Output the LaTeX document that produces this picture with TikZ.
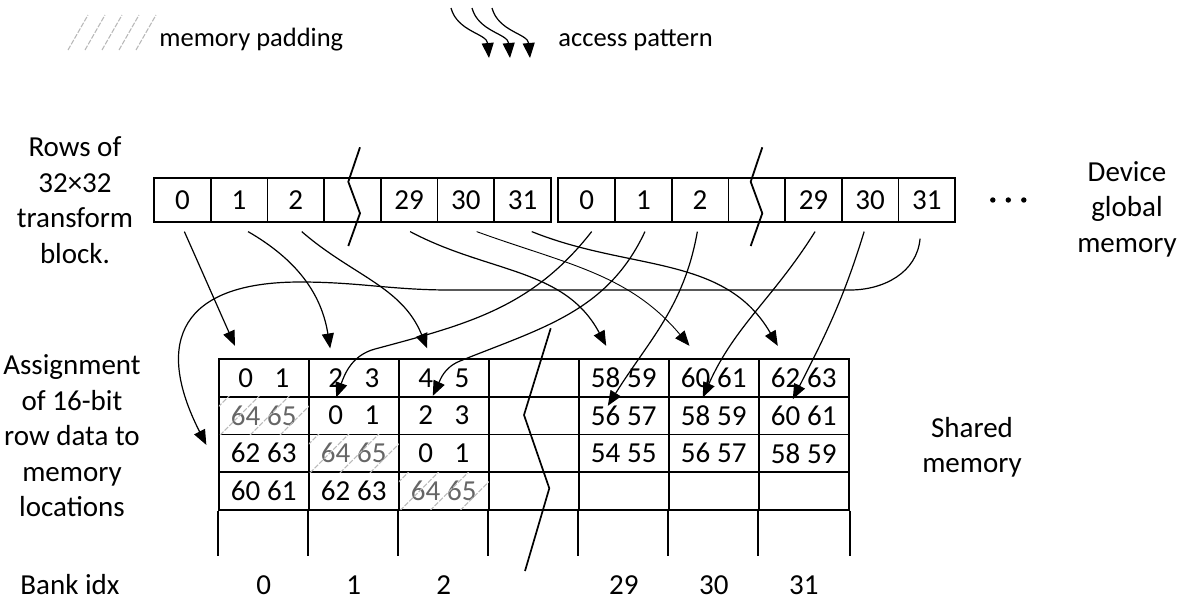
\documentclass[tikz,border=0pt]{standalone}
\usepackage{fontspec}
\setmainfont{Carlito}
\usetikzlibrary{positioning, calc, arrows.meta}
\newcommand{\numpair}[2]{\makebox[1.05em][c]{#1}\hspace{0.2em}\makebox[1.05em][c]{#2}}
\tikzset{
    txt/.style={font=\fontsize{14.5}{17.75}\selectfont},
    lbl/.style={txt, align=center, inner sep=0pt},
    leg/.style={font=\fontsize{13.25}{16}\selectfont, anchor=base west, inner sep=0pt},
    gcell/.style={txt, draw, line width=0.9pt, minimum width=28.35pt, minimum height=22pt, inner sep=0pt},
    scell/.style={txt, draw, line width=0.85pt, minimum width=45pt, minimum height=18.85pt, inner sep=0pt},
    padtext/.style={text=black!60},
    padline/.style={gray!55, line width=0.55pt, dash pattern=on 2.5pt off 0.8pt},
    access/.style={line width=0.6pt, -{Triangle[length=7.5pt,width=6pt]}},
    cut/.style={line width=0.9pt}
}

\begin{document}
\begin{tikzpicture}[x=0.5pt, y=-0.5pt]
    \useasboundingbox (0,0) rectangle (1189,601);

    % legend
    \foreach \k in {0,...,4}
        \draw[padline] (68+17*\k,50) -- (88+17*\k,15);
    \node[leg] (padlegend) at (159,46) {memory padding};
    \foreach \k/\dd in {1/0,2/21,3/41} {
        \coordinate (accs\k) at (451+\dd,8);
        \coordinate (acce\k) at (489+\dd,58);
        \draw[access] (accs\k) to[out=-75,in=95] (acce\k);
    }
    \node[leg] (acclegend) at (558,46) {access pattern};

    % device global memory rows
    \foreach \lab [count=\i from 0] in {0,1,2,{},29,30,31} {
        \node[gcell] (ga\i) at (182.35+56.7*\i,199.7) {\lab};
        \node[gcell] (gb\i) at (586.65+56.7*\i,199.7) {\lab};
    }
    \draw[cut] (360,147.3) -- (348.3,181.7) -- (360,213.3) -- (348.3,246);
    \draw[cut] (762.3,147.3) -- (750.7,181.7) -- (762.3,213.3) -- (750.7,246);
    \foreach \dd in {-15.5,0,15.5}
        \fill (1008.3+\dd,200) circle (2.7);

    % shared memory banks
    \foreach \row [count=\rw] in {
        {0/1/,2/3/,4/5/,{}/{}/,58/59/,60/61/,62/63/},
        {64/65/padtext,0/1/,2/3/,{}/{}/,56/57/,58/59/,60/61/},
        {62/63/,64/65/padtext,0/1/,{}/{}/,54/55/,56/57/,58/59/},
        {60/61/,62/63/,64/65/padtext,{}/{}/,{}/{}/,{}/{}/,{}/{}/}}
        \foreach \na/\nb/\st [count=\cl from 0] in \row
            \node[scell,\st] (s\rw\cl) at (263.8+90*\cl,377.85+37.7*\rw-37.7) {\numpair{\na}{\nb}};
    \foreach \cell in {s20,s31,s42} {
        \begin{scope}
            \clip ([shift={(0.45pt,0.45pt)}]\cell.south west) rectangle ([shift={(-0.45pt,-0.45pt)}]\cell.north east);
            \foreach \k in {-1,...,3}
                \draw[padline] ([xshift=\k*15pt+1pt]\cell.south west) -- ++(50,-50);
        \end{scope}
    }
    \foreach \cl in {0,...,6}
        \draw[line width=0.85pt] (s4\cl.south west) -- ++(0,45.3);
    \draw[line width=0.85pt] (s46.south east) -- ++(0,45.3);
    \draw[cut, line width=0.85pt] (550.7,328.3) -- (524,415) -- (549.3,488.3) -- (525,571);

    % labels
    \node[lbl] (rowslbl) at (75,200) {Rows of\\32×32\\transform\\block.};
    \node[lbl] (devlbl) at (1127,209) {Device\\global\\memory};
    \node[lbl] (asglbl) at (72,436) {Assignment\\of 16-bit\\row data to\\memory\\locations};
    \node[lbl] (shlbl) at (972,447.5) {Shared\\memory};
    \node[lbl] (banklbl) at (70,585) {Bank idx};
    \foreach \lab [count=\cl from 0] in {0,1,2,{},29,30,31}
        \node[lbl] (bank\cl) at (263.8+90*\cl,585) {\lab};

    % access pattern, first row
    \draw[access] ([xshift=1pt,yshift=-4.5pt]ga0.south) to[out=-66,in=114] ([xshift=-14.4pt,yshift=6.15pt]s10.north);
    \draw[access] ([xshift=4.5pt,yshift=-4.5pt]ga1.south) to[out=-30,in=99] ([xshift=-11.8pt,yshift=4.85pt]s11.north);
    \draw[access] ([xshift=3pt,yshift=-4.5pt]ga2.south) to[out=-41,in=112] ([xshift=-8.3pt,yshift=4.85pt]s12.north);
    \draw[access] ([xshift=0.5pt,yshift=-4.5pt]ga4.south) to[out=-28,in=118] ([xshift=-8.8pt,yshift=6.15pt]s14.north);
    \draw[access, line width=0.45pt] ([xshift=5.4pt,yshift=-4.5pt]ga5.south) to[out=-20,in=130] ([xshift=-12.15pt,yshift=6.15pt]s15.north);
    \draw[access] ([xshift=4.6pt,yshift=-4.5pt]ga6.south) to[out=-22,in=120] ([xshift=-13pt,yshift=6.15pt]s16.north);
    % access pattern, second row
    \draw[access] ([xshift=2.5pt,yshift=-4.5pt]gb0.south) to[out=-128,in=15] (375,349) to[out=195,in=70] ([xshift=-8.8pt,yshift=-0.8pt]s21.north);
    \draw[access] ([xshift=0.8pt,yshift=-4.5pt]gb1.south) to[out=-115,in=22] (460,361) to[out=202,in=65] ([xshift=-5.5pt]s22.north);
    \draw[access] ([xshift=-1.35pt,yshift=-4.5pt]gb2.south) to[out=-100,in=58] ([xshift=-8pt,yshift=-5pt]s24.north);
    \draw[access] ([xshift=0.8pt,yshift=-4.5pt]gb4.south) to[out=-122,in=66] ([xshift=-5.5pt,yshift=-0.8pt]s25.north);
    \draw[access] ([xshift=-3pt,yshift=-4.5pt]gb5.south) to[out=-107,in=63] ([xshift=-5.5pt,yshift=-1.65pt]s26.north);
    \draw[access] ([xshift=-3.4pt,yshift=-8pt]gb6.south) to[out=-95,in=0] (850,290) -- (450,290)
        to[out=180,in=0] (300,282) to[out=180,in=117,looseness=1.6] ([xshift=-5.8pt,yshift=4.15pt]s30.west);
\end{tikzpicture}
\end{document}
